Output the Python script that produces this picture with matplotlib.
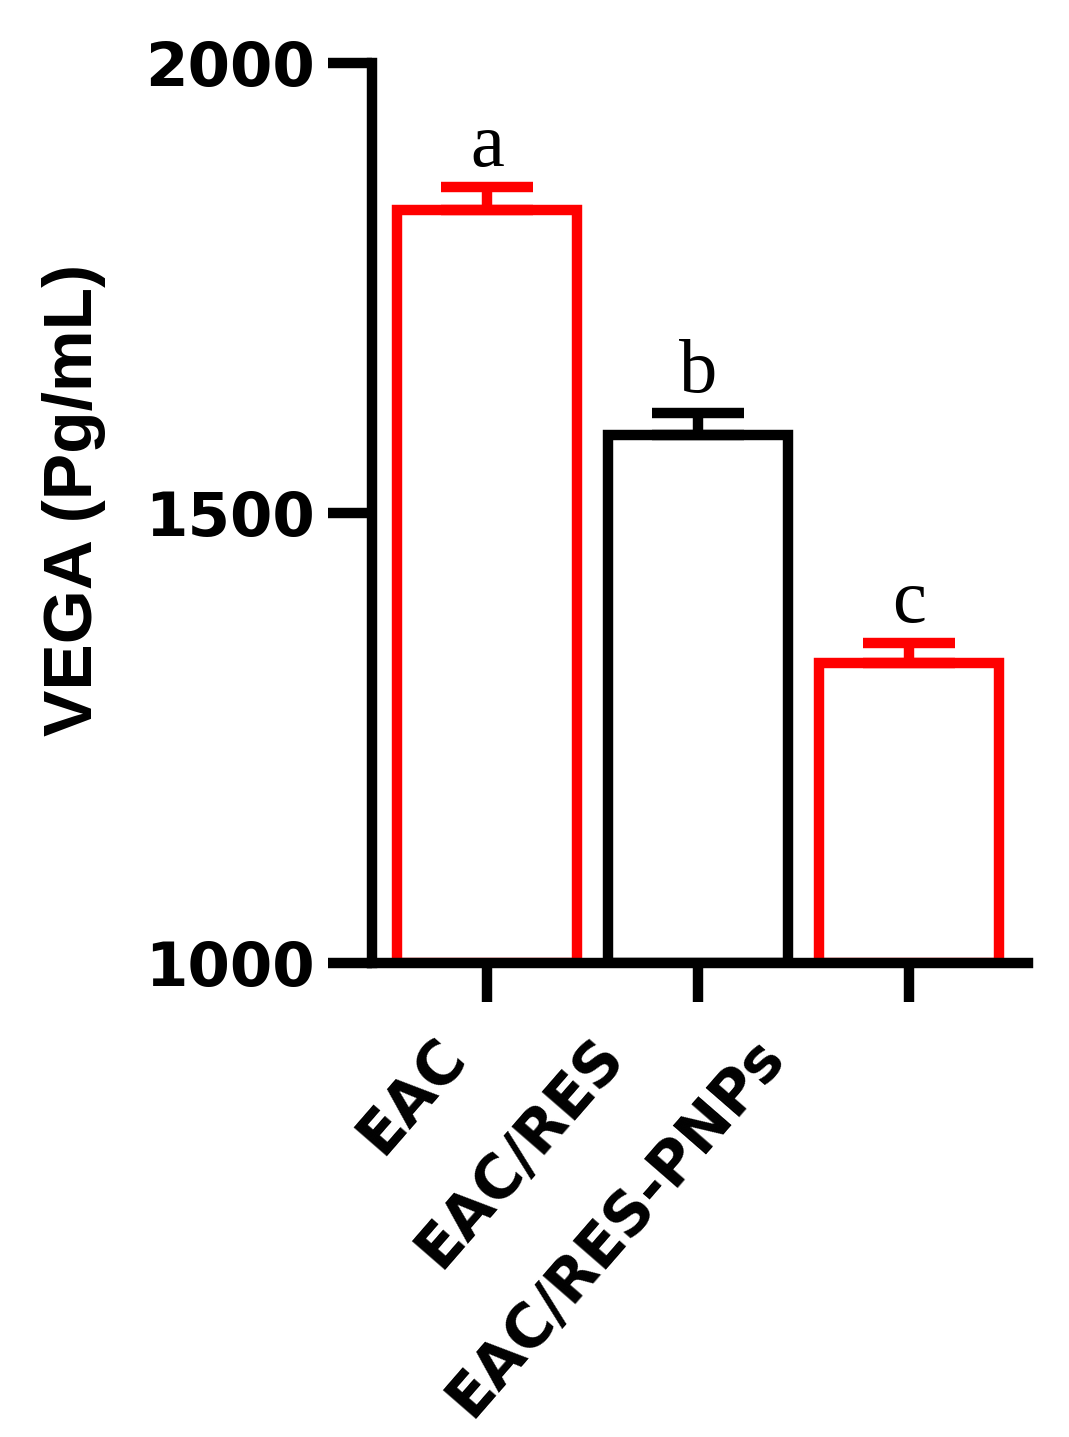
import matplotlib
matplotlib.use("Agg")
import matplotlib.pyplot as plt
import matplotlib.transforms as mtransforms

groups = ["EAC", "EAC/RES", "EAC/RES-PNPs"]
means = [1837, 1587, 1333]
errors = [25, 24, 23]
letters = ["a", "b", "c"]
colors = ["#ff0000", "#000000", "#ff0000"]
yticks = [1000, 1500, 2000]

fig = plt.figure(figsize=(10.69, 14.37), dpi=100)
ax = fig.add_axes([0.348, 0.3299, 0.6137, 0.6263])

x = list(range(len(groups)))
for i in x:
    ax.bar(i, means[i] - 1000, bottom=1000, width=0.853, color="white",
           edgecolor=colors[i], linewidth=7.5, zorder=2)
    ax.errorbar(i, means[i], yerr=[[0], [errors[i]]], color=colors[i],
                elinewidth=7.5, capsize=33, capthick=7.5, zorder=3)
    ax.annotate(letters[i], (i, means[i] + errors[i]), xytext=(0, 15),
                textcoords="offset points", ha="center", va="baseline",
                fontfamily="Liberation Serif", fontsize=55)

ax.set_xlim(-0.545, 2.564)
ax.set_ylim(1000, 2000)
ax.set_yticks(yticks)
ax.set_yticklabels([str(v) for v in yticks], fontfamily="DejaVu Sans",
                   fontweight="bold", fontsize=44)
ax.set_xticks(x)
ax.set_xticklabels([])

for side in ["top", "right"]:
    ax.spines[side].set_visible(False)
for side in ["left", "bottom"]:
    ax.spines[side].set_linewidth(7.5)
ax.tick_params(axis="y", length=32, width=7.5, pad=9)
ax.tick_params(axis="x", length=28, width=7.5)

# rotated group labels, anchored at their right end below the axis
label_dx = [-23, -61, -98]
for i, name in enumerate(groups):
    trans = ax.get_xaxis_transform() + mtransforms.ScaledTranslation(
        label_dx[i] / 72, -60 / 72, fig.dpi_scale_trans)
    ax.text(i, 0, name, transform=trans, rotation=49, rotation_mode="anchor",
            ha="right", va="center", fontfamily="DejaVu Sans",
            fontweight="bold", fontsize=43)

fig.text(74 / 1069, 1 - 500 / 1437, "VEGA (Pg/mL)", rotation=90,
         ha="center", va="center", fontfamily="Liberation Sans",
         fontweight="bold", fontsize=50)

fig.savefig("out.png", dpi=100)
